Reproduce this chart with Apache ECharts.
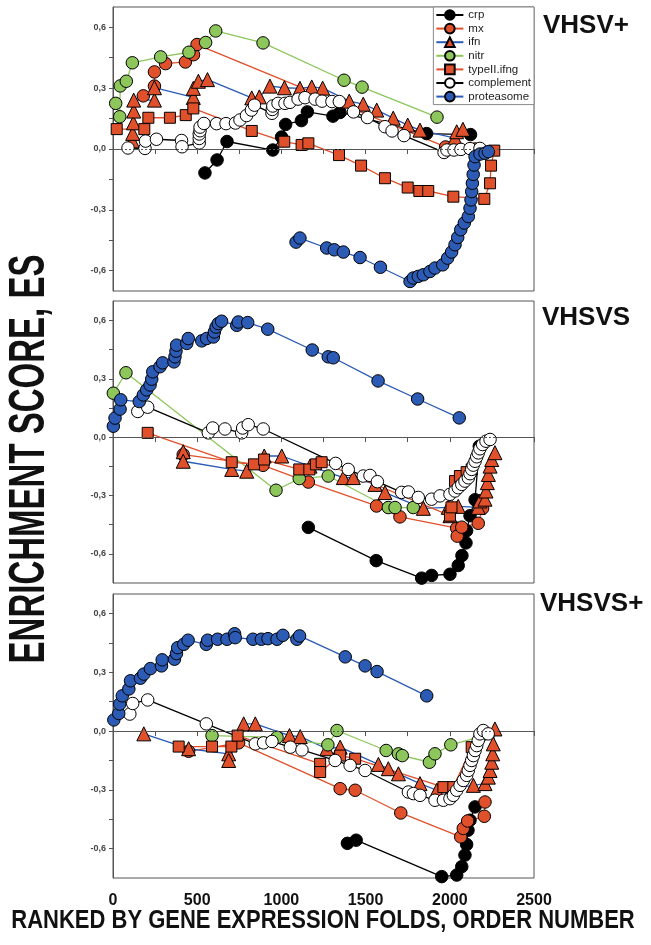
<!DOCTYPE html>
<html><head><meta charset="utf-8">
<script src="https://cdn.jsdelivr.net/npm/echarts@6/dist/echarts.min.js"></script>
<style>html,body{margin:0;padding:0;background:#fff}#c{width:651px;height:945px}</style>
</head><body><div id="c"></div>
<script>
const seriesNames = ['crp','mx','ifn','nitr','typeII.ifng','complement','proteasome'];
const panelTitles = ['VHSV+','VHSVS','VHSVS+'];
const xTickLabels = ['0','500','1000','1500','2000','2500'];
const yMajorTicks = [-0.6,-0.3,0,0.3,0.6];
const yMinorTicks = [-0.6,-0.45,-0.3,-0.15,0,0.15,0.3,0.45,0.6];

// ---------- Panel 1: VHSV+ ----------
const top_crp = [[546,-0.118],[618,-0.054],[677,0.037],[949,-0.005],[1001,0.059],[1025,0.121],[1119,0.140],[1154,0.183],[1306,0.162],[1348,0.180],[1862,0.076],[2123,0.071]];
const top_mx = [[180,0.262],[246,0.310],[246,0.380],[312,0.421],[430,0.429],[478,0.465],[499,0.515],[1975,0.01],[2150,0.0]];
const top_ifn = [[115,0.040],[117,0.077],[121,0.129],[123,0.187],[123,0.241],[246,0.241],[246,0.302],[477,0.254],[477,0.299],[507,0.334],[561,0.342],[824,0.252],[869,0.257],[932,0.310],[1018,0.302],[1110,0.299],[1180,0.306],[1245,0.300],[1403,0.236],[1486,0.221],[1566,0.192],[1664,0.152],[1750,0.118],[1823,0.093],[2031,0.054],[2041,0.085],[2078,0.097]];
const top_nitr = [[16,0.225],[40,0.159],[43,0.311],[79,0.334],[115,0.425],[283,0.454],[451,0.477],[550,0.525],[610,0.582],[891,0.523],[1372,0.339],[1479,0.305],[1924,0.157]];
const top_typeII = [[22,0.098],[186,0.098],[210,0.154],[338,0.154],[432,0.167],[477,0.200],[824,0.089],[1017,0.036],[1120,0.020],[1160,0.028],[1342,-0.030],[1473,-0.082],[1615,-0.144],[1750,-0.190],[1819,-0.207],[1872,-0.207],[2021,-0.235],[2205,-0.246],[2239,-0.169],[2245,-0.082],[2264,-0.008]];
const top_complement = [[89,0.005],[190,0.003],[193,0.039],[258,0.048],[407,0.042],[410,0.011],[512,0.030],[512,0.052],[512,0.074],[517,0.090],[517,0.108],[540,0.126],[615,0.125],[671,0.125],[727,0.128],[754,0.143],[793,0.165],[822,0.192],[840,0.216],[944,0.176],[946,0.195],[949,0.212],[980,0.225],[1021,0.225],[1051,0.230],[1099,0.246],[1140,0.253],[1200,0.246],[1241,0.236],[1300,0.234],[1344,0.234],[1428,0.183],[1511,0.155],[1615,0.110],[1657,0.089],[1728,0.066],[1966,-0.017],[1983,-0.005],[2025,-0.005],[2066,-0.002],[2120,0.002],[2179,0.003]];
const top_proteasome = [[1087,-0.459],[1110,-0.439],[1269,-0.488],[1314,-0.497],[1368,-0.508],[1467,-0.535],[1588,-0.583],[1764,-0.653],[1783,-0.636],[1813,-0.628],[1843,-0.620],[1882,-0.604],[1912,-0.587],[1958,-0.571],[1987,-0.538],[2011,-0.508],[2031,-0.472],[2047,-0.436],[2065,-0.398],[2086,-0.365],[2110,-0.333],[2120,-0.292],[2126,-0.251],[2130,-0.210],[2134,-0.169],[2139,-0.125],[2144,-0.079],[2150,-0.038],[2179,-0.025],[2209,-0.021],[2229,-0.013]];

// ---------- Panel 2: VHSVS ----------
const mid_crp = [[1160,-0.464],[1563,-0.635],[1833,-0.725],[1892,-0.711],[2001,-0.705],[2050,-0.660],[2072,-0.609],[2096,-0.544],[2100,-0.481],[2120,-0.404],[2150,-0.322],[2175,-0.047]];
const mid_mx = [[417,-0.090],[891,-0.145],[1160,-0.231],[1565,-0.354],[1704,-0.410],[2041,-0.468],[2044,-0.509],[2071,-0.463],[2169,-0.443],[2195,-0.366]];
const mid_ifn = [[417,-0.075],[417,-0.124],[705,-0.166],[794,-0.175],[898,-0.097],[1002,-0.097],[1170,-0.149],[1368,-0.208],[1427,-0.208],[1556,-0.243],[1615,-0.285],[1843,-0.366],[1991,-0.361],[2001,-0.404],[2050,-0.356],[2169,-0.361],[2179,-0.328],[2209,-0.319],[2215,-0.277],[2223,-0.234],[2229,-0.192],[2239,-0.149],[2249,-0.115],[2268,-0.080]];
const mid_nitr = [[2,0.226],[77,0.331],[968,-0.273],[1106,-0.213],[1278,-0.200],[1635,-0.362],[1675,-0.362],[1783,-0.362]];
const mid_typeII = [[206,0.022],[705,-0.129],[837,-0.140],[897,-0.115],[1106,-0.166],[1166,-0.166],[1205,-0.140],[1239,-0.129],[2001,-0.404],[2010,-0.361],[2031,-0.226],[2060,-0.200],[2100,-0.180],[2130,-0.166]];
const mid_complement = [[147,0.132],[206,0.154],[566,0.022],[592,0.047],[665,0.042],[764,0.022],[770,0.047],[803,0.064],[892,0.042],[1322,-0.135],[1397,-0.166],[1486,-0.200],[1526,-0.197],[1570,-0.229],[1714,-0.284],[1754,-0.282],[1813,-0.310],[1892,-0.319],[1942,-0.302],[2001,-0.294],[2031,-0.277],[2050,-0.260],[2071,-0.243],[2090,-0.226],[2110,-0.209],[2120,-0.188],[2130,-0.166],[2139,-0.144],[2150,-0.124],[2160,-0.101],[2169,-0.081],[2179,-0.060],[2195,-0.038],[2215,-0.021],[2239,-0.012]];
const mid_proteasome = [[2,0.056],[12,0.098],[42,0.144],[46,0.192],[156,0.183],[180,0.217],[200,0.243],[220,0.268],[230,0.298],[236,0.336],[279,0.362],[295,0.382],[362,0.387],[368,0.413],[374,0.442],[378,0.473],[438,0.482],[447,0.507],[527,0.495],[556,0.507],[596,0.515],[602,0.541],[612,0.566],[625,0.584],[645,0.596],[735,0.575],[744,0.592],[800,0.589],[919,0.555],[1183,0.448],[1278,0.413],[1308,0.408],[1574,0.289],[1809,0.196],[2056,0.099]];

// ---------- Panel 3: VHSVS+ ----------
const bot_crp = [[1392,-0.573],[1444,-0.557],[1952,-0.743],[2041,-0.735],[2071,-0.692],[2090,-0.633],[2100,-0.579],[2108,-0.506],[2120,-0.455],[2150,-0.387]];
const bot_mx = [[449,-0.103],[746,-0.060],[1349,-0.294],[1438,-0.302],[1709,-0.418],[2065,-0.540],[2080,-0.497],[2106,-0.459],[2205,-0.435],[2209,-0.362]];
const bot_ifn = [[183,-0.014],[449,-0.090],[687,-0.116],[687,-0.150],[776,0.037],[845,0.037],[1048,-0.023],[1112,-0.028],[1270,-0.090],[1349,-0.082],[1576,-0.170],[1635,-0.192],[1695,-0.218],[1823,-0.268],[1923,-0.302],[2011,-0.294],[2140,-0.277],[2209,-0.268],[2229,-0.235],[2239,-0.201],[2249,-0.159],[2255,-0.116],[2258,-0.065],[2268,0.011]];
const bot_nitr = [[588,-0.023],[974,-0.032],[1276,-0.070],[1330,0.003],[1622,-0.099],[1695,-0.116],[1718,-0.125],[1879,-0.159],[1912,-0.116],[2006,-0.070],[2180,-0.030]];
const bot_typeII = [[390,-0.079],[588,-0.079],[703,-0.079],[740,-0.023],[1230,-0.167],[1230,-0.209],[1349,-0.125],[1438,-0.141],[1962,-0.286],[2021,-0.286],[2130,-0.082]];
const bot_complement = [[100,0.087],[117,0.141],[206,0.159],[554,0.037],[845,-0.065],[894,-0.060],[944,-0.053],[1053,-0.082],[1122,-0.096],[1319,-0.150],[1408,-0.175],[1497,-0.201],[1754,-0.311],[1784,-0.319],[1823,-0.328],[1912,-0.353],[1962,-0.353],[2001,-0.345],[2021,-0.328],[2041,-0.302],[2061,-0.277],[2080,-0.252],[2100,-0.226],[2110,-0.201],[2120,-0.175],[2130,-0.150],[2140,-0.125],[2150,-0.099],[2160,-0.074],[2169,-0.048],[2179,-0.014],[2199,0.003],[2228,-0.014]];
const bot_proteasome = [[5,0.057],[34,0.090],[40,0.138],[55,0.180],[94,0.215],[104,0.257],[163,0.270],[183,0.291],[222,0.319],[288,0.333],[292,0.364],[365,0.367],[377,0.396],[384,0.426],[420,0.443],[446,0.464],[554,0.443],[562,0.464],[621,0.469],[677,0.469],[722,0.497],[726,0.477],[831,0.469],[881,0.469],[920,0.472],[974,0.469],[1009,0.489],[1092,0.469],[1108,0.486],[1379,0.379],[1497,0.333],[1568,0.304],[1863,0.180]];

const panelData = [
  [top_crp, top_mx, top_ifn, top_nitr, top_typeII, top_complement, top_proteasome],
  [mid_crp, mid_mx, mid_ifn, mid_nitr, mid_typeII, mid_complement, mid_proteasome],
  [bot_crp, bot_mx, bot_ifn, bot_nitr, bot_typeII, bot_complement, bot_proteasome]
];

const RED = '#e0502b', GREEN = '#8dc65a', BLUE = '#2b5bb5';
const styles = {
  'crp':        {symbol:'circle',   fill:'#000', line:'#000', size:12.5},
  'mx':         {symbol:'circle',   fill:RED,    line:RED,    size:12.5},
  'ifn':        {symbol:'triangle', fill:RED,    line:BLUE,   size:14},
  'nitr':       {symbol:'circle',   fill:GREEN,  line:GREEN,  size:12.5},
  'typeII.ifng':{symbol:'rect',     fill:RED,    line:RED,    size:11},
  'complement': {symbol:'circle',   fill:'#fff', line:'#000', size:12.5},
  'proteasome': {symbol:'circle',   fill:BLUE,   line:BLUE,   size:12.5}
};

const grids = [
  {left:113, top:7,   width:421, height:284},
  {left:113, top:301, width:421, height:282},
  {left:113, top:594, width:421, height:284}
];
const yMins = [-0.7, -0.75, -0.75];
const FONT = '"Liberation Sans", Arial, sans-serif';

const option = {
  animation: false,
  backgroundColor: '#fff',
  grid: grids.map(g => Object.assign({show:true, borderColor:'#555', borderWidth:1, backgroundColor:'#fff'}, g)),
  xAxis: grids.map((g, i) => ({
    type:'value', gridIndex:i, min:0, max:2500, interval:250,
    axisLine:{show:true, lineStyle:{color:'#555', width:1}},
    axisTick:{show:true, inside:false, length:5, lineStyle:{color:'#555'}},
    axisLabel:{show:i===2, margin:15, fontSize:16, fontWeight:'bold', color:'#111', fontFamily:FONT,
      formatter: v => xTickLabels.includes(String(v)) ? String(v) : ''},
    splitLine:{show:false}
  })),
  yAxis: grids.map((g, i) => ({
    type:'value', gridIndex:i, min:yMins[i], max:0.7,
    axisLine:{show:true, lineStyle:{color:'#555', width:1}},
    axisTick:{show:true, inside:false, length:4, lineStyle:{color:'#555'}, customValues:yMinorTicks},
    axisLabel:{margin:7, fontSize:9, fontWeight:'bold', color:'#444', fontFamily:FONT, customValues:yMajorTicks,
      formatter: v => v.toFixed(1).replace('.', ',')},
    splitLine:{show:false}
  })),
  legend: {
    data: seriesNames, orient:'vertical', top:7, right:117,
    itemWidth:27, itemHeight:12, itemGap:1.6, selectedMode:false,
    borderColor:'#888', borderWidth:1, padding:[2,3,2,2], backgroundColor:'#fff',
    textStyle:{fontSize:11.5, color:'#222', fontFamily:FONT}
  },
  series: [],
  graphic: [
    {type:'text', x:543, y:26, style:{text:panelTitles[0], font:'bold 26px ' + FONT, fill:'#111', align:'left', verticalAlign:'middle'}},
    {type:'text', x:542, y:318, style:{text:panelTitles[1], font:'bold 26px ' + FONT, fill:'#111', align:'left', verticalAlign:'middle'}},
    {type:'text', x:540, y:604, style:{text:panelTitles[2], font:'bold 26px ' + FONT, fill:'#111', align:'left', verticalAlign:'middle'}},
    {type:'text', x:30, y:459, rotation:Math.PI/2, scaleY:1.5,
      style:{text:'ENRICHMENT SCORE, ES', font:'bold 33px ' + FONT, fill:'#111', align:'center', verticalAlign:'middle'}},
    {type:'text', x:323, y:921, scaleY:1.18,
      style:{text:'RANKED BY GENE EXPRESSION FOLDS, ORDER NUMBER', font:'bold 22px ' + FONT, fill:'#111', align:'center', verticalAlign:'middle'}}
  ]
};

for (let p = 0; p < 3; p++) {
  option.series.push({
    type:'line', name:'zero' + p, xAxisIndex:p, yAxisIndex:p, data:[], z:1,
    markLine:{silent:true, symbol:'none', animation:false, label:{show:false},
      lineStyle:{type:[2,2], color:'#555', width:1}, data:[{yAxis:0}]}
  });
  seriesNames.forEach((name, k) => {
    const s = styles[name];
    option.series.push({
      type:'line', name:name, xAxisIndex:p, yAxisIndex:p, z:2, clip:false,
      data: panelData[p][k],
      symbol:s.symbol, symbolSize:s.size, showAllSymbol:true,
      itemStyle:{color:s.fill, borderColor:'#000', borderWidth:1},
      lineStyle:{color:s.line, width:1.3},
      emphasis:{disabled:true}
    });
  });
}

const chart = echarts.init(document.getElementById('c'), null, {renderer:'canvas'});
chart.setOption(option);
</script>
</body></html>
